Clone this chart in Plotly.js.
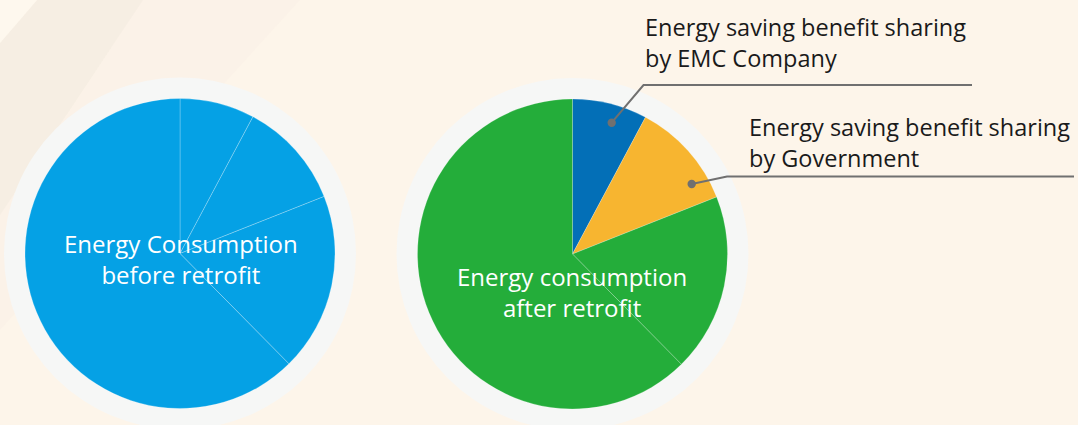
<!DOCTYPE html>
<html>
<head>
<meta charset="utf-8">
<script src="https://cdn.plot.ly/plotly-3.0.1.min.js"></script>
<style>
html,body{margin:0;padding:0;background:#fdf5ea;}
#chart{width:1078px;height:425px;}
</style>
</head>
<body>
<div id="chart"></div>
<script>
// Data (shares of energy use, % of pre-retrofit consumption)
const sliceLabels = ["Energy saving benefit sharing by EMC Company", "Energy saving benefit sharing by Government", "Energy saving (other)", "Energy consumption after retrofit"];
const beforeValues = [7.8, 11.2, 18.6, 62.4];
const afterValues = [7.8, 11.2, 18.6, 62.4];
const beforeColors = ["#05a1e5", "#05a1e5", "#05a1e5", "#05a1e5"];
const afterColors = ["#036fb7", "#f7b530", "#24ad3a", "#24ad3a"];
const centerTexts = ["Energy Consumption<br>before retrofit", "Energy consumption<br>after retrofit"];
const calloutTexts = ["Energy saving benefit sharing<br>by EMC Company", "Energy saving benefit sharing<br>by Government"];

const W = 1078, H = 425;
const fx = x => x / W;
const fy = y => 1 - y / H;

const R = 155, RING = 176;
const centers = [[180, 253.5], [572.5, 254]];

function dom(c) {
  return { x: [fx(c[0] - R), fx(c[0] + R)], y: [fy(c[1] + R), fy(c[1] - R)] };
}

const traces = [
  { type: "pie", labels: sliceLabels, values: beforeValues, sort: false, direction: "clockwise", rotation: 0,
    marker: { colors: beforeColors, line: { color: "rgba(255,255,255,0.3)", width: 0.8 } },
    textinfo: "none", hoverinfo: "label+value", domain: dom(centers[0]), showlegend: false },
  { type: "pie", labels: sliceLabels, values: afterValues, sort: false, direction: "clockwise", rotation: 0,
    marker: { colors: afterColors, line: { color: "rgba(255,255,255,0.25)", width: 0.8 } },
    textinfo: "none", hoverinfo: "label+value", domain: dom(centers[1]), showlegend: false }
];

const shapes = [
  { type: "path", xref: "paper", yref: "paper", layer: "below",
    path: `M ${fx(0)} ${fy(43)} L ${fx(37)} ${fy(0)} L ${fx(143)} ${fy(0)} L ${fx(0)} ${fy(215)} Z`,
    fillcolor: "rgba(225,215,205,0.22)", line: { width: 0 } },
  { type: "path", xref: "paper", yref: "paper", layer: "below",
    path: `M ${fx(0)} ${fy(0)} L ${fx(37)} ${fy(0)} L ${fx(0)} ${fy(43)} Z`,
    fillcolor: "rgba(255,250,240,0.6)", line: { width: 0 } },
  { type: "path", xref: "paper", yref: "paper", layer: "below",
    path: `M ${fx(0)} ${fy(215)} L ${fx(143)} ${fy(0)} L ${fx(300)} ${fy(0)} L ${fx(0)} ${fy(330)} Z`,
    fillcolor: "rgba(240,230,220,0.15)", line: { width: 0 } }
];
centers.forEach(c => {
  shapes.push({ type: "circle", xref: "paper", yref: "paper", layer: "below",
    x0: fx(c[0] - RING), x1: fx(c[0] + RING), y0: fy(c[1] + RING), y1: fy(c[1] - RING),
    fillcolor: "#f6f7f6", line: { width: 0 } });
});
const leaders = [
  [[611.7, 122.7], [643.5, 85], [972, 85]],
  [[691.7, 184], [727, 176.5], [1074, 176.5]]
];
leaders.forEach(pts => {
  shapes.push({ type: "path", xref: "paper", yref: "paper", layer: "above",
    path: "M " + pts.map(p => fx(p[0]) + " " + fy(p[1])).join(" L "),
    line: { color: "#707070", width: 2 } });
  const d = 4.2;
  shapes.push({ type: "circle", xref: "paper", yref: "paper", layer: "above",
    x0: fx(pts[0][0] - d), x1: fx(pts[0][0] + d), y0: fy(pts[0][1] + d), y1: fy(pts[0][1] - d),
    fillcolor: "#707070", line: { width: 0 } });
});

const FONT = "Segoe UI, Open Sans, sans-serif";
const annotations = [
  { xref: "paper", yref: "paper", x: fx(181), y: fy(259), text: centerTexts[0], showarrow: false,
    font: { family: FONT, size: 24, color: "#ffffff" }, align: "center", xanchor: "center", yanchor: "middle" },
  { xref: "paper", yref: "paper", x: fx(572), y: fy(292), text: centerTexts[1], showarrow: false,
    font: { family: FONT, size: 24, color: "#ffffff" }, align: "center", xanchor: "center", yanchor: "middle" },
  { xref: "paper", yref: "paper", x: fx(643), y: fy(42.5), text: calloutTexts[0], showarrow: false,
    font: { family: FONT, size: 23.5, color: "#1a1a1a" }, align: "left", xanchor: "left", yanchor: "middle" },
  { xref: "paper", yref: "paper", x: fx(747), y: fy(142), text: calloutTexts[1], showarrow: false,
    font: { family: FONT, size: 23.5, color: "#1a1a1a" }, align: "left", xanchor: "left", yanchor: "middle" }
];

Plotly.newPlot("chart", traces, {
  width: W, height: H,
  margin: { l: 0, r: 0, t: 0, b: 0 },
  paper_bgcolor: "#fdf5ea",
  plot_bgcolor: "#fdf5ea",
  showlegend: false,
  shapes: shapes,
  annotations: annotations
}, { displayModeBar: false, staticPlot: true });
</script>
</body>
</html>
